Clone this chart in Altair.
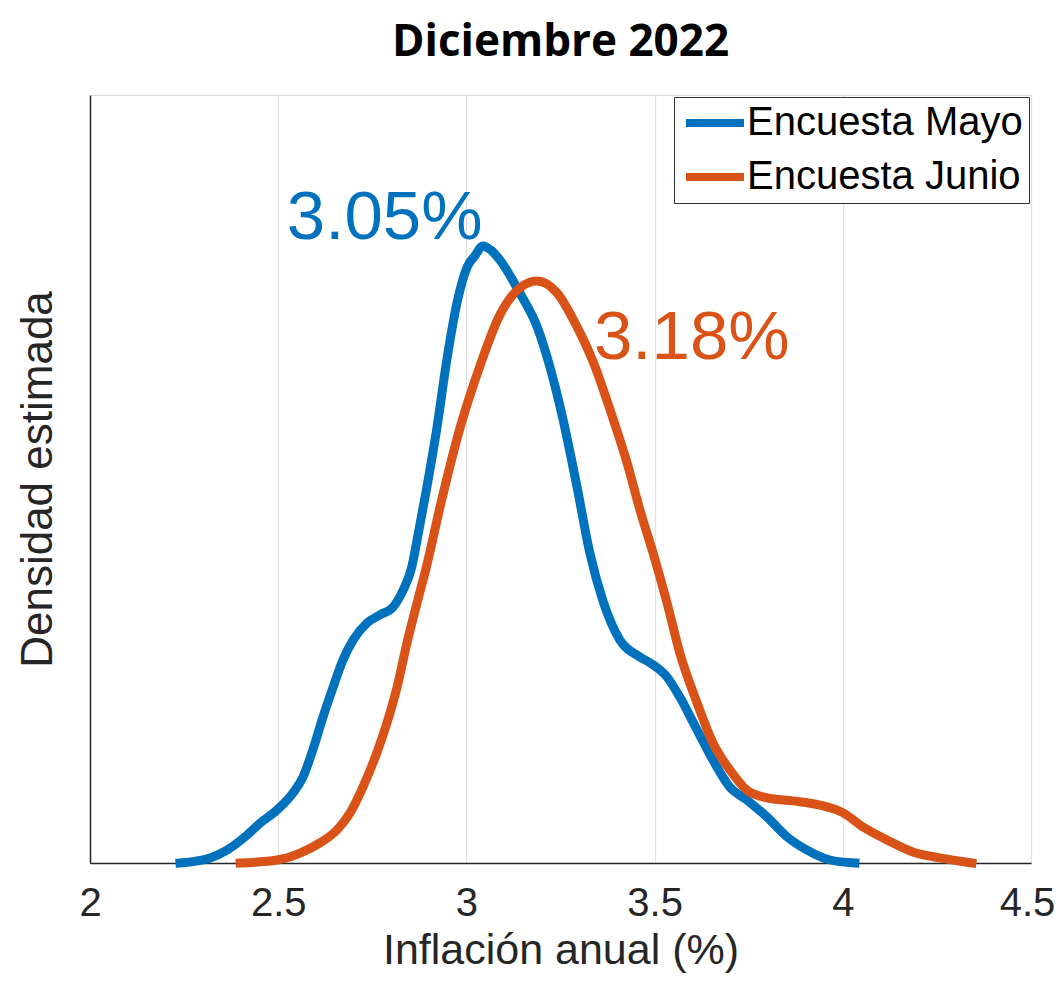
import altair as alt
import pandas as pd

# ---- data ----
series = ["Encuesta Mayo", "Encuesta Junio"]
colors = ["#0072BD", "#D95319"]

mayo_x = [2.239, 2.319, 2.364, 2.417, 2.452, 2.497, 2.539, 2.566, 2.592, 2.619,
          2.646, 2.672, 2.699, 2.736, 2.770, 2.805, 2.832, 2.855, 2.869, 2.895,
          2.922, 2.948, 2.975, 3.002, 3.022, 3.044, 3.065, 3.089, 3.142, 3.188,
          3.222, 3.257, 3.294, 3.328, 3.363, 3.408, 3.461, 3.488, 3.533, 3.567,
          3.613, 3.655, 3.700, 3.745, 3.799, 3.852, 3.905, 3.966, 4.032]
mayo_d = [0.000, 0.017, 0.043, 0.093, 0.133, 0.177, 0.233, 0.287, 0.377, 0.487,
          0.587, 0.677, 0.743, 0.800, 0.827, 0.853, 0.910, 0.987, 1.077, 1.253,
          1.453, 1.677, 1.867, 1.987, 2.023, 2.057, 2.043, 2.010, 1.900, 1.787,
          1.653, 1.477, 1.253, 1.033, 0.873, 0.743, 0.687, 0.667, 0.620, 0.553,
          0.443, 0.343, 0.253, 0.210, 0.153, 0.087, 0.043, 0.010, 0.000]

junio_x = [2.399, 2.497, 2.558, 2.611, 2.656, 2.691, 2.725, 2.762, 2.789, 2.816,
           2.842, 2.869, 2.895, 2.930, 2.983, 3.036, 3.089, 3.142, 3.188, 3.241,
           3.294, 3.336, 3.389, 3.427, 3.461, 3.496, 3.533, 3.567, 3.613, 3.655,
           3.700, 3.745, 3.799, 3.868, 3.939, 4.001, 4.054, 4.117, 4.186, 4.258,
           4.343]
junio_d = [0.000, 0.010, 0.033, 0.067, 0.110, 0.167, 0.253, 0.367, 0.467, 0.587,
           0.733, 0.867, 0.993, 1.187, 1.450, 1.657, 1.827, 1.917, 1.940, 1.900,
           1.787, 1.673, 1.483, 1.333, 1.177, 1.033, 0.867, 0.700, 0.533, 0.400,
           0.310, 0.243, 0.217, 0.207, 0.193, 0.167, 0.120, 0.077, 0.037, 0.017,
           0.000]

label_text = ["3.05%", "3.18%"]
label_x = [2.523, 3.339]
label_y = [2.08, 1.68]

x_ticks = [2, 2.5, 3, 3.5, 4, 4.5]

# ---- tables ----
df_mayo = pd.DataFrame({"x": mayo_x, "d": mayo_d, "serie": series[0]})
df_junio = pd.DataFrame({"x": junio_x, "d": junio_d, "serie": series[1]})
df_lab = pd.DataFrame({"x": label_x, "d": label_y, "t": label_text, "serie": series})

FONT = "Liberation Sans"
AX = "#262626"

xscale = alt.Scale(domain=[2, 4.5], nice=False, zero=False)
yscale = alt.Scale(domain=[0, 2.56], nice=False, zero=True)
cscale = alt.Scale(domain=series, range=colors)

x_enc = alt.X("x:Q", scale=xscale,
              axis=alt.Axis(values=x_ticks, format="~g", title="Inflación anual (%)",
                            grid=True, gridColor="#e0e0e0", gridWidth=1.2,
                            ticks=False, labelPadding=20, labelFontSize=40,
                            labelOffset={"condition": {"test": "datum.value == 4.5",
                                                       "value": -4}, "value": 0},
                            labelFont=FONT, labelColor=AX, titleFont=FONT,
                            titleFontSize=43, titleFontWeight="normal",
                            titleColor=AX, titlePadding=6, domainColor=AX,
                            domainWidth=1.5, labelFlush=False))
y_enc = alt.Y("d:Q", scale=yscale,
              axis=alt.Axis(title="Densidad estimada", labels=False, ticks=False,
                            grid=False, titleFont=FONT, titleFontSize=44,
                            titleFontWeight="normal", titleColor=AX,
                            titlePadding=30, domainColor=AX, domainWidth=1.5))

legend = alt.Legend(title=None, orient="none", legendX=584, legendY=2,
                    labelFont=FONT, labelFontSize=40, labelColor="black",
                    labelLimit=500, labelOffset=12,
                    symbolType="M-2,0H2", symbolSize=841, symbolStrokeWidth=8,
                    symbolOffset=15,
                    rowPadding=14, padding=6, fillColor="white",
                    strokeColor="#333333", cornerRadius=0)

line_mayo = alt.Chart(df_mayo).mark_line(strokeWidth=9, interpolate="monotone",
                                         strokeCap="square").encode(
    x=x_enc, y=y_enc,
    color=alt.Color("serie:N", scale=cscale, legend=legend))
line_junio = alt.Chart(df_junio).mark_line(strokeWidth=9, interpolate="monotone",
                                           strokeCap="square").encode(
    x=x_enc, y=y_enc,
    color=alt.Color("serie:N", scale=cscale, legend=legend))

text_mayo = alt.Chart(df_lab).transform_filter(
    alt.datum.serie == series[0]).mark_text(
    font=FONT, fontSize=69, align="left", baseline="alphabetic",
    color=colors[0]).encode(x="x:Q", y="d:Q", text="t:N")
text_junio = alt.Chart(df_lab).transform_filter(
    alt.datum.serie == series[1]).mark_text(
    font=FONT, fontSize=69, align="left", baseline="alphabetic",
    color=colors[1]).encode(x="x:Q", y="d:Q", text="t:N")

chart = alt.layer(line_mayo, line_junio, text_mayo, text_junio).properties(
    width=941, height=768,
    title=alt.Title("Diciembre 2022", font="Open Sans", fontWeight="bold",
                    fontSize=44, color="black", anchor="middle", offset=30),
    autosize=alt.AutoSizeParams(type="none"),
    padding={"left": 82, "top": 87, "right": 24, "bottom": 110},
).configure_view(stroke=None).configure(background="white")

chart.save("out.html", embed_options={"renderer": "svg", "actions": False})
